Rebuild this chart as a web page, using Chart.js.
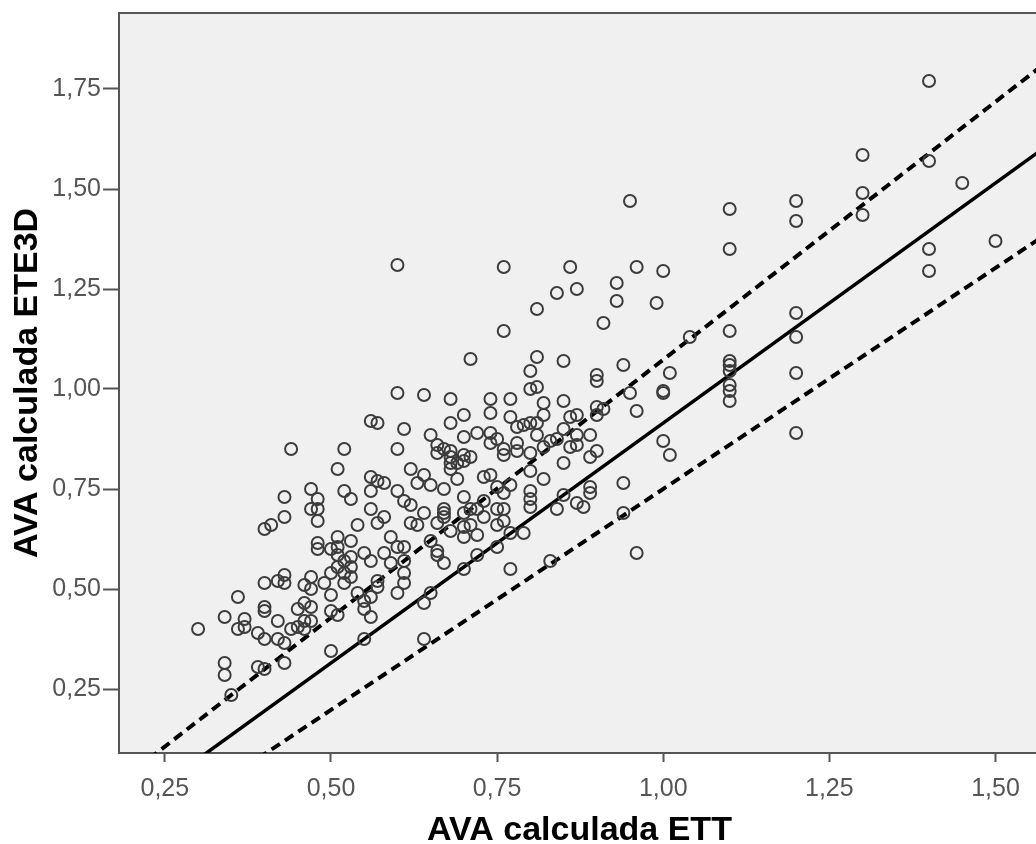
<!DOCTYPE html>
<html lang="es">
<head>
    <meta charset="UTF-8">
    <title>AVA calculada ETT vs ETE3D</title>
    <style>
        body {
            margin: 0;
            background-color: #ffffff;
            overflow: hidden;
        }
        #wrap {
            width: 1048px;
            height: 844px;
        }
    </style>
    <script src="https://cdn.jsdelivr.net/npm/chart.js"></script>
</head>
<body>
    <div id="wrap">
        <canvas id="scatterChart" width="1048" height="844"></canvas>
    </div>

    <script>
        // AVA por ETT (eje x) y por ETE3D (eje y), un par por paciente
        const ettValues = [
            0.95, 1.10, 1.20, 1.20, 1.10, 0.86, 0.96, 1.00, 0.93, 0.87,
            0.84, 0.93, 0.99, 0.91, 1.20, 1.10, 1.04, 1.20, 0.85, 1.10,
            1.10, 1.10, 0.94, 0.90, 0.90, 1.01, 1.20, 1.10, 1.10, 1.10,
            0.95, 1.00, 1.00, 0.85, 0.90, 0.91, 0.87, 0.86, 0.90, 0.96,
            1.20, 0.85, 0.87, 0.89, 1.00, 1.40, 1.30, 1.40, 1.45, 1.30,
            1.30, 1.40, 1.50, 1.40, 1.01, 0.94, 0.94, 0.96, 0.89, 0.89,
            0.87, 0.88, 0.85, 0.85, 0.84, 0.83, 0.77, 0.82, 0.80, 0.80,
            0.80, 0.80, 0.79, 0.77, 0.76, 0.76, 0.75, 0.75, 0.75, 0.72,
            0.70, 0.67, 0.66, 0.72, 0.70, 0.70, 0.68, 0.71, 0.73, 0.67,
            0.67, 0.70, 0.71, 0.72, 0.73, 0.70, 0.67, 0.76, 0.77, 0.75,
            0.73, 0.74, 0.69, 0.68, 0.68, 0.68, 0.68, 0.70, 0.70, 0.71,
            0.66, 0.66, 0.74, 0.75, 0.76, 0.76, 0.78, 0.78, 0.80, 0.72,
            0.70, 0.68, 0.70, 0.74, 0.77, 0.78, 0.79, 0.80, 0.81, 0.82,
            0.81, 0.82, 0.83, 0.84, 0.86, 0.87, 0.89, 0.90, 0.82, 0.74,
            0.77, 0.30, 0.34, 0.34, 0.35, 0.34, 0.36, 0.37, 0.37, 0.36,
            0.39, 0.40, 0.39, 0.40, 0.40, 0.40, 0.40, 0.42, 0.43, 0.43,
            0.42, 0.42, 0.43, 0.43, 0.44, 0.45, 0.45, 0.46, 0.46, 0.46,
            0.47, 0.47, 0.46, 0.47, 0.47, 0.43, 0.40, 0.41, 0.43, 0.44,
            0.47, 0.48, 0.48, 0.47, 0.48, 0.48, 0.48, 0.50, 0.49, 0.50,
            0.50, 0.50, 0.51, 0.50, 0.51, 0.52, 0.52, 0.53, 0.51, 0.51,
            0.51, 0.51, 0.52, 0.52, 0.52, 0.53, 0.53, 0.53, 0.53, 0.54,
            0.54, 0.55, 0.55, 0.56, 0.55, 0.55, 0.56, 0.56, 0.57, 0.57,
            0.56, 0.57, 0.58, 0.56, 0.56, 0.57, 0.58, 0.56, 0.57, 0.61,
            0.60, 0.62, 0.64, 0.63, 0.65, 0.65, 0.60, 0.61, 0.62, 0.64,
            0.62, 0.63, 0.66, 0.67, 0.59, 0.60, 0.61, 0.58, 0.59, 0.61,
            0.61, 0.61, 0.60, 0.65, 0.66, 0.64, 0.65, 0.64, 0.60, 0.76,
            0.81, 0.76, 0.71, 0.81, 0.80, 0.80, 0.81, 0.60, 0.64, 0.68,
            0.67, 0.69, 0.74
        ];
        const ete3dValues = [
            1.47, 1.45, 1.47, 1.42, 1.35, 1.305, 1.305, 1.295, 1.265, 1.25,
            1.24, 1.22, 1.215, 1.165, 1.19, 1.145, 1.13, 1.13, 1.07, 1.07,
            1.06, 1.045, 1.06, 1.035, 1.02, 1.04, 1.04, 1.01, 0.995, 0.97,
            0.99, 0.995, 0.99, 0.97, 0.955, 0.95, 0.935, 0.93, 0.935, 0.945,
            0.89, 0.90, 0.885, 0.885, 0.87, 1.77, 1.585, 1.57, 1.515, 1.49,
            1.435, 1.35, 1.37, 1.295, 0.835, 0.765, 0.69, 0.59, 0.755, 0.74,
            0.715, 0.705, 0.815, 0.735, 0.70, 0.57, 0.55, 0.775, 0.795, 0.745,
            0.725, 0.705, 0.64, 0.64, 0.70, 0.67, 0.70, 0.66, 0.605, 0.585,
            0.55, 0.565, 0.585, 0.635, 0.63, 0.655, 0.645, 0.66, 0.68, 0.69,
            0.70, 0.69, 0.70, 0.70, 0.72, 0.73, 0.75, 0.74, 0.76, 0.755,
            0.78, 0.785, 0.775, 0.80, 0.815, 0.83, 0.845, 0.82, 0.835, 0.83,
            0.84, 0.86, 0.865, 0.875, 0.85, 0.835, 0.865, 0.845, 0.84, 0.89,
            0.88, 0.915, 0.935, 0.94, 0.93, 0.905, 0.91, 0.915, 0.915, 0.935,
            0.885, 0.855, 0.87, 0.875, 0.855, 0.86, 0.83, 0.845, 0.965, 0.975,
            0.975, 0.40, 0.315, 0.285, 0.235, 0.43, 0.40, 0.405, 0.425, 0.48,
            0.39, 0.375, 0.305, 0.30, 0.455, 0.445, 0.515, 0.52, 0.535, 0.515,
            0.42, 0.375, 0.365, 0.315, 0.40, 0.45, 0.405, 0.465, 0.42, 0.40,
            0.455, 0.42, 0.51, 0.53, 0.50, 0.68, 0.65, 0.66, 0.73, 0.85,
            0.75, 0.725, 0.70, 0.70, 0.67, 0.615, 0.60, 0.60, 0.515, 0.54,
            0.485, 0.445, 0.435, 0.345, 0.80, 0.85, 0.745, 0.725, 0.63, 0.605,
            0.585, 0.555, 0.57, 0.54, 0.515, 0.62, 0.58, 0.555, 0.53, 0.66,
            0.49, 0.47, 0.45, 0.43, 0.375, 0.59, 0.57, 0.48, 0.52, 0.505,
            0.78, 0.77, 0.765, 0.745, 0.70, 0.665, 0.68, 0.92, 0.915, 0.90,
            0.85, 0.80, 0.785, 0.765, 0.76, 0.885, 0.745, 0.72, 0.71, 0.69,
            0.665, 0.66, 0.665, 0.68, 0.63, 0.605, 0.605, 0.59, 0.565, 0.57,
            0.54, 0.515, 0.49, 0.62, 0.595, 0.465, 0.49, 0.375, 1.31, 1.305,
            1.20, 1.145, 1.075, 1.08, 1.045, 1.00, 1.005, 0.99, 0.985, 0.975,
            0.85, 0.815, 0.89
        ];

        // recta de ajuste y límites (extremos en unidades de datos)
        const lineX = [0.15, 1.60];
        const fitLineY = [-0.105, 1.635];
        const upperLineY = [-0.023, 1.847];
        const lowerLineY = [-0.189, 1.413];

        const xTicks = [0.25, 0.50, 0.75, 1.00, 1.25, 1.50];
        const yTicks = [0.25, 0.50, 0.75, 1.00, 1.25, 1.50, 1.75];

        const xTitle = 'AVA calculada ETT';
        const yTitle = 'AVA calculada ETE3D';

        function toPoints(xs, ys) {
            return xs.map(function(x, i) { return { x: x, y: ys[i] }; });
        }

        function fmt(value) {
            return value.toFixed(2).replace('.', ',');
        }

        // fondo gris del área de trazado y marco superior/derecho
        const plotFrame = {
            id: 'plotFrame',
            beforeDraw(chart) {
                const a = chart.chartArea;
                const ctx = chart.ctx;
                ctx.save();
                ctx.fillStyle = '#f0f0f0';
                ctx.fillRect(a.left, a.top, a.right - a.left, a.bottom - a.top);
                ctx.restore();
            },
            afterDraw(chart) {
                const a = chart.chartArea;
                const ctx = chart.ctx;
                ctx.save();
                ctx.strokeStyle = '#555555';
                ctx.lineWidth = 2;
                ctx.beginPath();
                ctx.moveTo(a.left, a.top);
                ctx.lineTo(a.right, a.top);
                ctx.lineTo(a.right, a.bottom);
                ctx.stroke();
                ctx.restore();
            }
        };

        const tickFont = { family: "'Liberation Sans', Arial, sans-serif", size: 25 };
        const titleFont = { family: "'Liberation Sans', Arial, sans-serif", size: 34, weight: 'bold', lineHeight: 0.8 };

        const ctx = document.getElementById('scatterChart').getContext('2d');
        const chart = new Chart(ctx, {
            type: 'scatter',
            data: {
                datasets: [
                    {
                        data: toPoints(ettValues, ete3dValues),
                        pointRadius: 6,
                        pointBorderWidth: 2,
                        borderColor: '#3c3c3c',
                        backgroundColor: 'rgba(0,0,0,0)'
                    },
                    {
                        data: toPoints(lineX, fitLineY),
                        showLine: true,
                        pointRadius: 0,
                        borderColor: '#000000',
                        borderWidth: 3.5,
                        clip: 0
                    },
                    {
                        data: toPoints(lineX, upperLineY),
                        showLine: true,
                        pointRadius: 0,
                        borderColor: '#000000',
                        borderWidth: 4,
                        borderDash: [10, 6],
                        clip: 0
                    },
                    {
                        data: toPoints(lineX, lowerLineY),
                        showLine: true,
                        pointRadius: 0,
                        borderColor: '#000000',
                        borderWidth: 4,
                        borderDash: [10, 6],
                        clip: 0
                    }
                ]
            },
            options: {
                responsive: false,
                animation: false,
                layout: {
                    padding: { top: 13, right: 2, left: 0, bottom: 0 }
                },
                plugins: {
                    legend: { display: false },
                    tooltip: { enabled: false }
                },
                scales: {
                    x: {
                        type: 'linear',
                        min: 0.181,
                        max: 1.567,
                        afterBuildTicks: function(scale) {
                            scale.ticks = xTicks.map(function(v) { return { value: v }; });
                        },
                        afterFit: function(scale) {
                            scale.height = 91;
                            scale.paddingLeft = 0;
                            scale.paddingRight = 0;
                        },
                        ticks: {
                            font: tickFont,
                            color: '#555555',
                            padding: 12,
                            maxRotation: 0,
                            callback: fmt
                        },
                        grid: {
                            drawOnChartArea: false,
                            drawTicks: true,
                            tickLength: 9,
                            tickWidth: 2,
                            tickColor: '#555555'
                        },
                        border: { display: true, color: '#555555', width: 2 },
                        title: {
                            display: true,
                            text: xTitle,
                            color: '#000000',
                            font: titleFont,
                            padding: { top: 0, bottom: 0 }
                        }
                    },
                    y: {
                        type: 'linear',
                        min: 0.09,
                        max: 1.94,
                        afterBuildTicks: function(scale) {
                            scale.ticks = yTicks.map(function(v) { return { value: v }; });
                        },
                        afterFit: function(scale) {
                            scale.width = 119;
                            scale.paddingTop = 0;
                            scale.paddingBottom = 0;
                        },
                        ticks: {
                            font: tickFont,
                            color: '#555555',
                            padding: 2,
                            callback: fmt
                        },
                        grid: {
                            drawOnChartArea: false,
                            drawTicks: true,
                            tickLength: 16,
                            tickWidth: 2,
                            tickColor: '#555555'
                        },
                        border: { display: true, color: '#555555', width: 2 },
                        title: {
                            display: true,
                            text: yTitle,
                            color: '#000000',
                            font: titleFont,
                            padding: { top: 14, bottom: 0 }
                        }
                    }
                }
            },
            plugins: [plotFrame]
        });
    </script>
</body>
</html>
